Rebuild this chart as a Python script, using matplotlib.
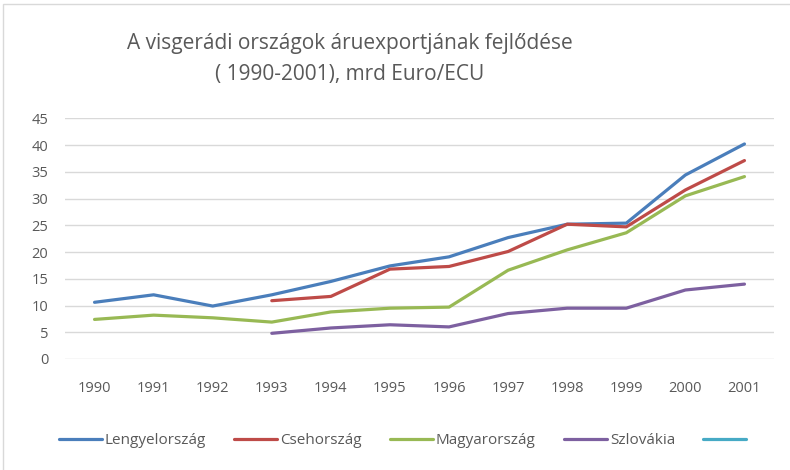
import matplotlib
matplotlib.use("Agg")
import matplotlib.pyplot as plt
from matplotlib.patches import Rectangle

# data (mrd Euro/ECU)
evek = ["1990", "1991", "1992", "1993", "1994", "1995", "1996",
        "1997", "1998", "1999", "2000", "2001"]
lengyel = [10.6, 12.0, 9.9, 12.0, 14.5, 17.4, 19.1, 22.7, 25.2, 25.4, 34.4, 40.2]
cseh = [None, None, None, 10.9, 11.7, 16.8, 17.3, 20.1, 25.2, 24.7, 31.6, 37.1]
magyar = [7.4, 8.2, 7.7, 6.9, 8.8, 9.5, 9.7, 16.6, 20.4, 23.6, 30.5, 34.1]
szlovak = [None, None, None, 4.8, 5.8, 6.4, 6.0, 8.5, 9.5, 9.5, 12.9, 14.0]
ures = [None] * 12  # fifth series, no values, empty legend name

nevek = ["Lengyelország", "Csehország", "Magyarország", "Szlovákia", " "]
szinek = ["#4A7EBB", "#BE4B48", "#98B954", "#7D60A0", "#46AAC5"]
yticks = list(range(0, 50, 5))

szoveg = "#595959"
plt.rcParams['font.family'] = ['Open Sans', 'DejaVu Sans']

fig = plt.figure(figsize=(7.9, 4.7), dpi=100)
ax = fig.add_axes([65 / 790, 111 / 470, 709 / 790, 240.7 / 470])

x = list(range(len(evek)))
sorok = [lengyel, cseh, magyar, szlovak, ures]
vonalak = []
for adat, nev, szin in zip(sorok, nevek, szinek):
    y = [float('nan') if v is None else v for v in adat]
    ln, = ax.plot(x, y, color=szin, lw=2.3, label=nev, solid_capstyle='round')
    vonalak.append(ln)

ax.set_xlim(-0.5, len(evek) - 0.5)
ax.set_ylim(0, 45)
ax.set_xticks(x)
ax.set_xticklabels(evek)
ax.set_yticks(yticks)
ax.grid(axis='y', color='#D9D9D9', lw=1)
ax.set_axisbelow(True)
for s in ax.spines.values():
    s.set_visible(False)
ax.tick_params(length=0, colors=szoveg, labelsize=10.5)
ax.tick_params(axis='x', pad=16)
ax.tick_params(axis='y', pad=12)

fig.text(350 / 790, 1 - 59 / 470, "A visgerádi országok áruexportjának fejlődése\n( 1990-2001), mrd Euro/ECU",
         ha='center', va='center', fontsize=15, color=szoveg, linespacing=1.6)

fig.legend(vonalak, nevek, loc='center', bbox_to_anchor=(406 / 790, 1 - 441 / 470), ncol=5,
           frameon=False, fontsize=11, handlelength=2.8, handletextpad=0.2,
           columnspacing=1.85, labelcolor=szoveg)

fig.patches.append(Rectangle((3 / 790, -0.1), 1.2, (1 - 4 / 470) + 0.1, transform=fig.transFigure,
                             fill=False, edgecolor='#D9D9D9', lw=1))

fig.savefig("out.png", dpi=100)
